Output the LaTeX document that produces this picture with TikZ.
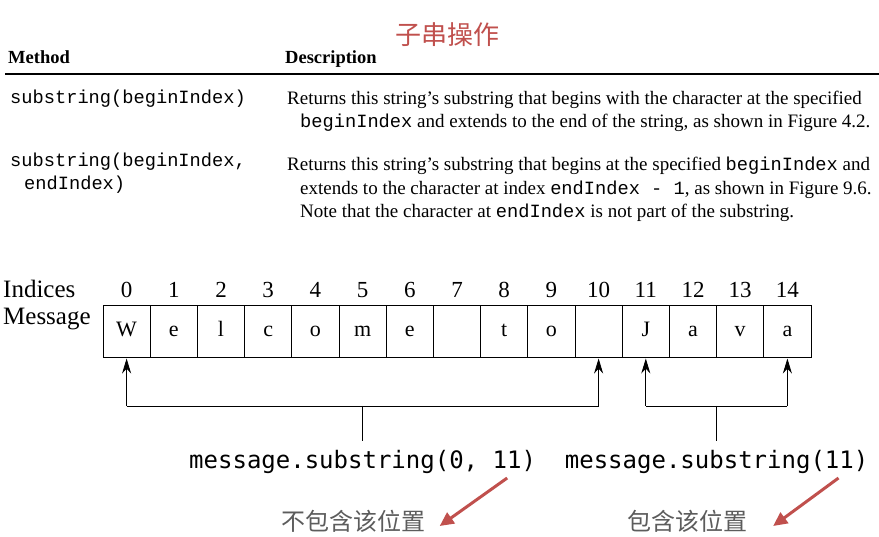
\documentclass[tikz,border=0pt]{standalone}
\usepackage{fontspec}
\setmainfont{Liberation Serif}
\setmonofont{Liberation Mono}
\newfontfamily\cjk{Noto Sans CJK SC}
\newfontfamily\codefont{DejaVu Sans Mono}
\usetikzlibrary{arrows.meta, positioning, calc}
\definecolor{titlered}{RGB}{192,80,77}
\definecolor{notegray}{RGB}{92,92,92}
\newcommand{\jcode}[1]{{\fontsize{18.7}{23.5}\selectfont\ttfamily #1}}

\begin{document}
\begin{tikzpicture}[x=1pt, y=-1pt,
  head/.style={font=\fontsize{18.5}{22}\selectfont\bfseries, anchor=base west, inner sep=0pt},
  meth/.style={font=\fontsize{18.7}{23.5}\selectfont\ttfamily, anchor=base west, inner sep=0pt, align=left},
  desc/.style={font=\fontsize{19}{23.5}\selectfont, anchor=base west, inner sep=0pt, align=left},
  cell/.style={draw, line width=1pt, minimum width=47.2pt, minimum height=52pt, inner sep=0pt,
               text height=10pt, text depth=0pt, font=\fontsize{22}{26}\selectfont},
  idx/.style={font=\fontsize{23}{26}\selectfont, anchor=base, inner sep=0pt},
  lbl/.style={font=\fontsize{25}{28}\selectfont, anchor=base west, inner sep=0pt},
  call/.style={font=\fontsize{24}{28}\codefont, anchor=base, inner sep=0pt},
  note/.style={font=\fontsize{24}{28}\cjk, text=notegray, inner sep=0pt},
  arr/.style={-{Stealth[length=15pt,width=9pt]}, line width=0.8pt},
  hint/.style={-{Triangle[length=14pt,width=13pt]}, line width=3pt, draw=titlered}
]
\useasboundingbox (0,0) rectangle (879,537);

% title and table (multi-line nodes sit on their last baseline)
\node[font=\fontsize{26}{30}\cjk, text=titlered] (title) at (447,35) {子串操作};
\node[head] (hmeth) at (8,64) {Method};
\node[head] (hdesc) at (285,64) {Description};
\draw[line width=2pt] (5,74) -- (879,74);

\node[meth] (m1) at (10,104) {substring(beginIndex)};
\node[desc] (d1) at (287,128) {Returns this string’s substring that begins with the character at the specified\\
\hspace*{13pt}\jcode{beginIndex} and extends to the end of the string, as shown in Figure 4.2.};

\node[meth] (m2) at (10,190) {substring(beginIndex,\\ \hspace*{14pt}endIndex)};
\node[desc] (d2) at (287,218) {Returns this string’s substring that begins at the specified \jcode{beginIndex} and\\
\hspace*{13pt}extends to the character at index \jcode{endIndex - 1}, as shown in Figure 9.6.\\
\hspace*{13pt}Note that the character at \jcode{endIndex} is not part of the substring.};

% the string
\node[lbl] (ind) at (3,298) {Indices};
\node[lbl] (msg) at (3,325) {Message};
\foreach \ch [count=\i from 0] in {W,e,l,c,o,m,e,{},t,o,{},J,a,v,a} {
  \node[cell] (c\i) at (126.6+47.2*\i,332) {\ch};
  \node[idx] (n\i) at (126.6+47.2*\i,298) {\i};
}

% brackets
\coordinate (base) at (0,406);
\coordinate (a0) at (c0.south |- base);
\coordinate (a10) at (c10.south |- base);
\coordinate (a11) at (c11.south |- base);
\coordinate (a14) at (c14.south |- base);
\coordinate (mid1) at ($(a0)!0.5!(a10)$);
\coordinate (mid2) at ($(a11)!0.5!(a14)$);

\draw[line width=0.8pt] (a0) -- (a10);
\draw[arr] (a0) -- (c0.south);
\draw[arr] (a10) -- (c10.south);
\draw[line width=0.8pt] (a11) -- (a14);
\draw[arr] (a11) -- (c11.south);
\draw[arr] (a14) -- (c14.south);

\node[call] (call1) at ($(mid1)+(0,62)$) {message.substring(0, 11)};
\node[call] (call2) at ($(mid2)+(0,62)$) {message.substring(11)};
\draw[line width=0.8pt, shorten >=9pt] (mid1) -- (call1);
\draw[line width=0.8pt, shorten >=9pt] (mid2) -- (call2);

% notes
\node[note] (note1) at (353.5,521) {不包含该位置};
\node[note] (note2) at (687,521) {包含该位置};
\draw[hint] ($(call1.base east)+(-29,10)$) -- ($(note1.east)+(14,5)$);
\draw[hint] ($(call2.base east)+(-30,10)$) -- ($(note2.east)+(26,5)$);
\end{tikzpicture}
\end{document}
